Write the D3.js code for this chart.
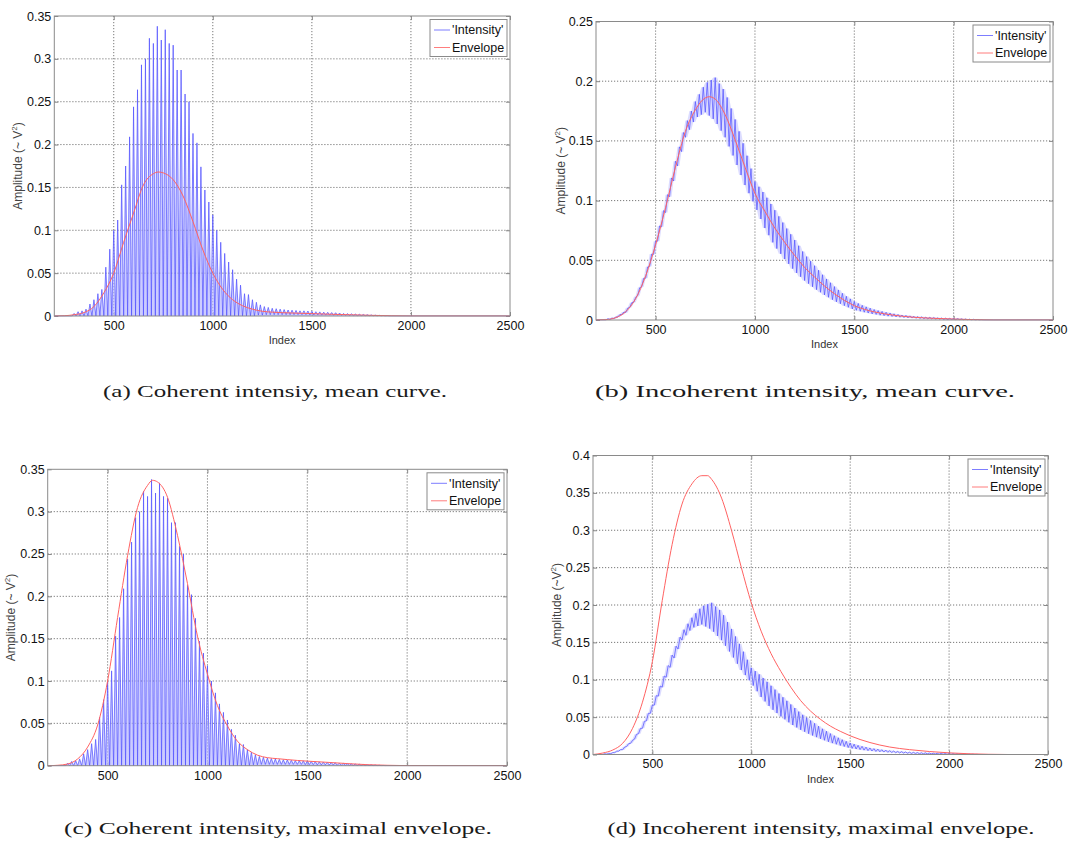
<!DOCTYPE html>
<html><head><meta charset="utf-8">
<script src="https://cdn.jsdelivr.net/npm/d3@7"></script>
<style>
body{margin:0;background:#fff;}
svg{display:block;}
</style></head><body>
<svg id="chart" width="1073" height="843"></svg>
<script>
// ---------------- DATA ----------------
const xDomain = [200, 2500];
const xTicks = [500, 1000, 1500, 2000, 2500];
const yTicksA = [0, 0.05, 0.1, 0.15, 0.2, 0.25, 0.3, 0.35];
const yTicksB = [0, 0.05, 0.1, 0.15, 0.2, 0.25];
const yTicksC = [0, 0.05, 0.1, 0.15, 0.2, 0.25, 0.3, 0.35];
const yTicksD = [0, 0.05, 0.1, 0.15, 0.2, 0.25, 0.3, 0.35, 0.4];
const legendLabels = ["'Intensity'", "Envelope"];
const xLabel = "Index";
const yLabels = ["Amplitude (~ V", "Amplitude (~ V", "Amplitude (~ V", "Amplitude (~V"];
const captions = [
  "(a) Coherent intensiy, mean curve.",
  "(b) Incoherent intensity, mean curve.",
  "(c) Coherent intensity, maximal envelope.",
  "(d) Incoherent intensity, maximal envelope."
];

// Intensity samples: one value every 10 index units (alternating trough / peak)
const intensityStep = 10;
const coherentStart = 290;
const coherentIntensity = [
  0,0.003,0,0.005,0,0.006,0,0.008,0,0.014,0,0.019,0,0.026,0,0.031,0,0.057,0,0.078,
  0,0.100,0,0.112,0,0.153,0,0.175,0,0.209,0,0.244,0,0.264,0,0.293,0,0.300,0,0.324,
  0,0.318,0,0.338,0,0.322,0,0.334,0,0.318,0,0.316,0,0.287,0,0.287,0,0.259,0,0.250,
  0,0.213,0,0.202,0,0.174,0,0.147,0,0.133,0,0.118,0,0.100,0,0.086,0,0.073,0,0.063,
  0,0.054,0,0.043,0,0.036,0,0.026,0,0.025,0,0.019,0,0.016,0.001,0.013,0.001,0.011,0.0015,0.010,
  0.0015,0.009,0.0015,0.0085,0.0015,0.008,0.0015,0.0075,0.0015,0.007,0.0015,0.0068,0.0015,0.0065,0.0015,0.006,0.0015,0.006,0.0015,0.0058,
  0.0012,0.0055,0.0012,0.005,0.0012,0.0048,0.001,0.0045,0.001,0.0043,0.001,0.004,0.0008,0.0038,0.0008,0.0035,0.0006,0.003,0.0006,0.0028,
  0.0005,0.0025,0.0004,0.0022,0.0003,0.002,0.0003,0.0018,0.0002,0.0015,0.0002,0.0012,0.0001,0.001,0,0.0008,0,0.0005,0,0.0003,
  0
];
const incoherentStart = 250;
const incoherentIntensity = [
  0,0.0011,0.0004,0.0017,0.0011,0.0026,0.0024,0.0046,0.0044,0.0067,
  0.0063,0.0100,0.0106,0.0145,0.0149,0.019,0.0206,0.027,0.0278,0.035,
  0.035,0.0444,0.045,0.0552,0.055,0.066,0.066,0.0788,0.078,0.0916,
  0.090,0.105,0.1032,0.119,0.1164,0.133,0.129,0.145,0.141,0.157,
  0.153,0.167,0.1594,0.175,0.1658,0.183,0.170,0.189,0.172,0.195,
  0.174,0.199,0.1712,0.201,0.1684,0.203,0.1642,0.198,0.1586,0.1934,
  0.153,0.1864,0.1454,0.1772,0.1378,0.168,0.1298,0.158,0.1214,0.148,
  0.113,0.1376,0.1062,0.1268,0.0994,0.116,0.0922,0.1116,0.0846,0.1072,
  0.077,0.1024,0.071,0.0972,0.065,0.092,0.0598,0.0868,0.0554,0.0816,
  0.051,0.0766,0.047,0.0718,0.043,0.067,0.0394,0.0622,0.0362,0.0574,
  0.033,0.0531,0.0304,0.0493,0.0278,0.0455,0.0254,0.0417,0.0232,0.0379,
  0.021,0.0344,0.019,0.0312,0.017,0.028,0.0152,0.0252,0.0136,0.0224,
  0.012,0.0199,0.0106,0.0177,0.0092,0.0155,0.0081,0.0139,0.0073,0.0123,
  0.0065,0.011,0.0058,0.0099,0.0051,0.0088,0.0046,0.0079,0.004,0.0072,
  0.0036,0.0065,0.0032,0.0059,0.0029,0.0052,0.0026,0.0047,0.0023,0.0042,
  0.002,0.0039,0.0018,0.0035,0.0016,0.0031,0.0014,0.0029,0.0012,0.0027,
  0.0010,0.0024,0.0009,0.0023,0.0008,0.0021,0.0007,0.0018,0.0006,0.0017,
  0.0004,0.0016,0.0003,0.0014,0.0003,0.0013,0.0002,0.0012,0.0002,0.0010,
  0.0001,0.0009,0.0001,0.0007,0,0.0006,0,0.0004,0,0.0002,
  0
];

// Envelope curves
const meanCoherentX = [200,250,300,350,400,450,500,550,600,650,700,725,750,800,850,900,950,1000,1050,1100,1150,1200,1250,1300,1400,1500,1600,1700,1800,1900,2000,2500];
const meanCoherent  = [0,0.0003,0.0015,0.004,0.011,0.027,0.050,0.086,0.120,0.153,0.166,0.168,0.167,0.159,0.140,0.110,0.077,0.050,0.031,0.019,0.012,0.008,0.0055,0.0045,0.0035,0.0028,0.002,0.0014,0.0008,0.0003,0,0];
const meanIncoherentX = [200,250,300,350,400,450,500,550,600,650,700,750,770,800,850,900,950,1000,1050,1100,1150,1200,1250,1300,1350,1400,1450,1500,1550,1600,1700,1800,1900,2000,2100,2200,2500];
const meanIncoherent  = [0,0.0003,0.002,0.007,0.018,0.037,0.063,0.094,0.128,0.158,0.176,0.186,0.187,0.185,0.172,0.151,0.128,0.106,0.091,0.077,0.065,0.054,0.044,0.036,0.0285,0.022,0.0165,0.012,0.009,0.0068,0.004,0.0023,0.0014,0.0008,0.0003,0,0];
const maxCoherentX = [200,250,300,350,400,450,500,550,600,650,700,725,750,800,850,900,950,1000,1050,1100,1150,1200,1250,1300,1350,1400,1450,1500,1600,1700,1800,1900,2000,2500];
const maxCoherent  = [0,0.0005,0.002,0.008,0.022,0.048,0.100,0.175,0.248,0.305,0.331,0.337,0.335,0.317,0.272,0.215,0.153,0.108,0.071,0.047,0.029,0.019,0.0125,0.0095,0.0083,0.0072,0.0062,0.0054,0.004,0.0025,0.0012,0.0005,0.0001,0];
const maxIncoherentX = [200,250,300,350,400,450,500,550,600,650,700,750,780,800,850,900,950,1000,1050,1100,1150,1200,1250,1300,1350,1400,1450,1500,1600,1700,1800,1900,2000,2100,2200,2300,2500];
const maxIncoherent  = [0,0.002,0.006,0.015,0.035,0.070,0.124,0.206,0.281,0.335,0.362,0.373,0.373,0.368,0.343,0.300,0.250,0.203,0.165,0.135,0.111,0.090,0.072,0.058,0.047,0.038,0.031,0.025,0.016,0.010,0.0065,0.004,0.0022,0.001,0.0003,0,0];

// ---------------- LAYOUT ----------------
const svg = d3.select('#chart');
const panels = [
  {box:[54.3,510,16,316],   yTicks:yTicksA, inten:[coherentStart, coherentIntensity], fill:'under', envX:meanCoherentX, env:meanCoherent,   yl:yLabels[0], ylx:18,    ixy:339.5, cap:captions[0], capX:275, capY:397, capW:344},
  {box:[596,1053,21.5,320], yTicks:yTicksB, inten:[incoherentStart, incoherentIntensity], fill:'band', envX:meanIncoherentX, env:meanIncoherent, yl:yLabels[1], ylx:560.5, ixy:344,   cap:captions[1], capX:805, capY:397, capW:420},
  {box:[47.7,507,469.3,765.7], yTicks:yTicksC, inten:[coherentStart, coherentIntensity], fill:'under', envX:maxCoherentX, env:maxCoherent,     yl:yLabels[2], ylx:11.3,  ixy:null,  cap:captions[2], capX:278, capY:834, capW:428},
  {box:[593,1048,455.5,754.5], yTicks:yTicksD, inten:[incoherentStart, incoherentIntensity], fill:'band', envX:maxIncoherentX, env:maxIncoherent, yl:yLabels[3], ylx:556.5, ixy:779, cap:captions[3], capX:821, capY:834, capW:427}
];

const FONT = "'Liberation Sans', Arial, Helvetica, sans-serif";
const yFmt = d => d === 0 ? "0" : String(+d.toFixed(2));

panels.forEach(p => {
  const [l, r, t, b] = p.box;
  const yMax = p.yTicks[p.yTicks.length - 1];
  const x = d3.scaleLinear().domain(xDomain).range([l, r]);
  const y = d3.scaleLinear().domain([0, yMax]).range([b, t]);
  const g = svg.append('g');

  // grid
  g.append('g').selectAll('line').data(xTicks.filter(v => v > xDomain[0] && v < xDomain[1])).join('line')
    .attr('x1', d => x(d)).attr('x2', d => x(d)).attr('y1', t).attr('y2', b)
    .attr('stroke', '#6a6a6a').attr('stroke-width', 0.9).attr('stroke-dasharray', '1.2,1.8');
  g.append('g').selectAll('line').data(p.yTicks.filter(v => v > 0 && v < yMax)).join('line')
    .attr('x1', l).attr('x2', r).attr('y1', d => y(d)).attr('y2', d => y(d))
    .attr('stroke', '#6a6a6a').attr('stroke-width', 0.9).attr('stroke-dasharray', '1.2,1.8');

  // axes
  const axB = g.append('g').attr('transform', `translate(0,${b})`)
    .call(d3.axisBottom(x).tickValues(xTicks).tickSizeInner(-4).tickSizeOuter(0).tickPadding(5).tickFormat(d3.format('d')));
  const axL = g.append('g').attr('transform', `translate(${l},0)`)
    .call(d3.axisLeft(y).tickValues(p.yTicks).tickSizeInner(-4).tickSizeOuter(0).tickPadding(3).tickFormat(yFmt));
  const axT = g.append('g').attr('transform', `translate(0,${t})`)
    .call(d3.axisTop(x).tickValues(xTicks).tickSizeInner(-4).tickSizeOuter(0).tickFormat(''));
  const axR = g.append('g').attr('transform', `translate(${r},0)`)
    .call(d3.axisRight(y).tickValues(p.yTicks).tickSizeInner(-4).tickSizeOuter(0).tickFormat(''));
  [axB, axL, axT, axR].forEach(a => {
    a.select('.domain').remove();
    a.selectAll('line').attr('stroke', '#888');
    a.selectAll('text').attr('font-family', FONT).attr('font-size', 12.5).attr('fill', '#111');
  });

  // clip
  const cid = 'clip' + Math.round(l);
  svg.append('clipPath').attr('id', cid).append('rect').attr('x', l).attr('y', t - 2).attr('width', r - l).attr('height', b - t + 2.5);

  // intensity
  const [start, vals] = p.inten;
  const pts = [[xDomain[0], 0]].concat(vals.map((v, i) => [start + i * intensityStep, v])).concat([[xDomain[1], 0]]);
  if (p.fill === 'under') {
    g.append('path').datum(pts).attr('clip-path', `url(#${cid})`)
      .attr('d', d3.area().x(d => x(d[0])).y0(y(0)).y1(d => y(d[1])))
      .attr('fill', '#b6b6ff').attr('opacity', 0.7);
  } else {
    const band = pts.map((d, i) => {
      const w = pts.slice(Math.max(0, i - 1), i + 2).map(q => q[1]);
      return [d[0], d3.min(w), d3.max(w)];
    });
    g.append('path').datum(band).attr('clip-path', `url(#${cid})`)
      .attr('d', d3.area().x(d => x(d[0])).y0(d => y(d[1])).y1(d => y(d[2])))
      .attr('fill', '#c4c4ff').attr('opacity', 0.6);
  }
  g.append('path').datum(pts).attr('clip-path', `url(#${cid})`)
    .attr('d', d3.line().x(d => x(d[0])).y(d => y(d[1])))
    .attr('fill', 'none').attr('stroke', '#5656ff').attr('stroke-width', 0.75);

  // envelope
  const env = p.envX.map((v, i) => [v, p.env[i]]);
  g.append('path').datum(env).attr('clip-path', `url(#${cid})`)
    .attr('d', d3.line().x(d => x(d[0])).y(d => y(d[1])).curve(d3.curveMonotoneX))
    .attr('fill', 'none').attr('stroke', '#ff6262').attr('stroke-width', 1);

  // box
  g.append('rect').attr('x', l).attr('y', t).attr('width', r - l).attr('height', b - t)
    .attr('fill', 'none').attr('stroke', '#8a8a8a').attr('stroke-width', 1);

  // legend
  const lw = 77, lh = 37;
  const lx = r - 3 - lw, ly = t + 3.5;
  const lg = g.append('g').attr('transform', `translate(${lx},${ly})`);
  lg.append('rect').attr('width', lw).attr('height', lh).attr('fill', '#fff').attr('stroke', '#8a8a8a');
  const lcol = ['#7d7dff', '#ff7d7d'];
  legendLabels.forEach((s, i) => {
    const yy = 10.5 + i * 17.5;
    lg.append('line').attr('x1', 4).attr('x2', 20).attr('y1', yy).attr('y2', yy).attr('stroke', lcol[i]).attr('stroke-width', 1);
    lg.append('text').attr('x', 22).attr('y', yy).attr('dy', '0.35em').text(s)
      .attr('font-family', FONT).attr('font-size', 12.5).attr('fill', '#111');
  });

  // y label
  const yc = (t + b) / 2;
  const yt = g.append('text').attr('transform', `translate(${p.ylx},${yc}) rotate(-90)`)
    .attr('text-anchor', 'middle').attr('dominant-baseline', 'central')
    .attr('font-family', FONT).attr('font-size', 12).attr('fill', '#444');
  yt.append('tspan').text(p.yl);
  yt.append('tspan').text('2').attr('font-size', 8).attr('dy', -4);
  yt.append('tspan').text(')').attr('dy', 4);

  // x label
  if (p.ixy !== null) {
    g.append('text').attr('x', (l + r) / 2).attr('y', p.ixy).attr('text-anchor', 'middle').attr('dominant-baseline', 'central')
      .attr('font-family', FONT).attr('font-size', 11).attr('fill', '#333').text(xLabel);
  }

  // caption
  g.append('text').attr('x', p.capX).attr('y', p.capY).attr('text-anchor', 'middle')
    .attr('font-family', "'Liberation Serif', 'Times New Roman', serif").attr('font-size', 16).attr('fill', '#1a1a1a')
    .attr('textLength', p.capW).attr('lengthAdjust', 'spacingAndGlyphs').text(p.cap);
});
</script>
</body></html>
